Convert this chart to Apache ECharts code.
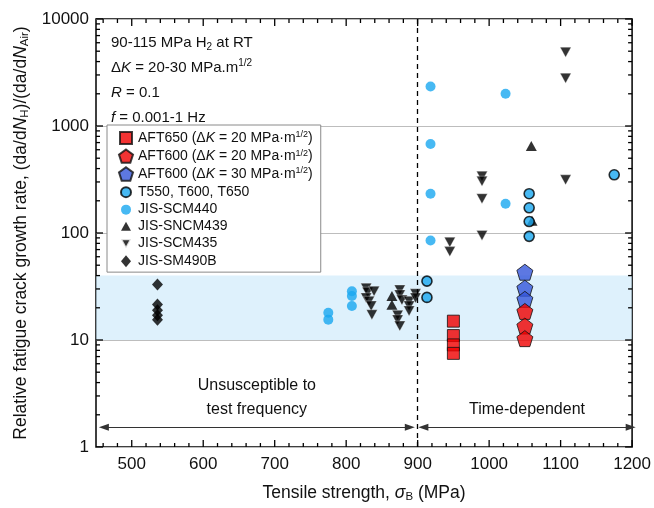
<!DOCTYPE html>
<html>
<head>
<meta charset="utf-8">
<script src="https://cdn.jsdelivr.net/npm/echarts@6/dist/echarts.min.js"></script>
<style>
html, body { margin: 0; padding: 0; background: #fff; }
#chart { width: 654px; height: 508px; }
</style>
</head>
<body>
<div id="chart"></div>
<script>
// data: [tensile strength (MPa), relative growth rate]
var aft650_20 = [[950, 15], [950, 11], [950, 9], [950, 7.5]];
var aft600_20 = [[1050, 18.5], [1050, 13.5], [1050, 10.3]];
var aft600_30 = [[1050, 43], [1050, 30.5], [1050, 24]];
var tSeries = [[913, 35.5], [913, 25], [1056, 233], [1056, 172], [1056, 128], [1056, 93], [1175, 350]];
var scm440 = [[918, 2340], [918, 680], [918, 233], [918, 85], [1023, 2000], [1023, 188],
  [775, 18], [775, 15.5], [808, 28.6], [808, 25.8], [808, 20.8]];
var sncm439 = [[864, 25.8], [864, 21.3], [1059, 650], [1060, 130]];
var scm435 = [[828, 30.5], [830, 28], [839, 28.6], [828, 24.7], [832, 23], [835, 20.8], [836, 17.2],
  [875, 29.3], [875, 26.4], [878, 23.6], [888, 23], [888, 20.8], [888, 18.7], [872, 17], [872, 15.4],
  [875, 13.5], [897, 27], [897, 24.7],
  [945, 82], [945, 67], [990, 340], [990, 305], [990, 209], [990, 95],
  [1107, 4900], [1107, 2800], [1107, 314]];
var sm490b = [[536, 33], [536, 21.5], [536, 19], [536, 17], [536, 15.5]];

// axis ticks
var xMajorTicks = [500, 600, 700, 800, 900, 1000, 1100, 1200];
var xMinorTicks = [460, 480, 520, 540, 560, 580, 620, 640, 660, 680, 720, 740, 760, 780,
  820, 840, 860, 880, 920, 940, 960, 980, 1020, 1040, 1060, 1080, 1120, 1140, 1160, 1180];
var yMajorTicks = [1, 10, 100, 1000, 10000];
var yMinorTicks = [2, 3, 4, 5, 6, 7, 8, 9, 20, 30, 40, 50, 60, 70, 80, 90,
  200, 300, 400, 500, 600, 700, 800, 900, 2000, 3000, 4000, 5000, 6000, 7000, 8000, 9000];

var xRange = [450, 1200];
var yRange = [1, 10000];
var band = [10, 40];
var splitX = 900;
var arrowY = 1.53;
var leftArrow = [461, 889];
var rightArrow = [908, 1198];

var FONT = '"Liberation Sans", Arial, Helvetica, sans-serif';
var LIGHT = '#19a8f0';

var pentagon = 'path://M0,-10 L9.51,-3.09 L5.88,8.09 L-5.88,8.09 L-9.51,-3.09 Z';
var downTri = 'path://M-5,-4.5 L5,-4.5 L0,4.5 Z';

var legendRich = {
  t: { fontFamily: FONT, fontSize: 14, lineHeight: 15, color: '#111' },
  i: { fontFamily: FONT, fontSize: 14, lineHeight: 15, color: '#111', fontStyle: 'italic' },
  s: { fontFamily: FONT, fontSize: 9, lineHeight: 9, color: '#111', verticalAlign: 'top' }
};
var legendText = {
  'AFT650 20': '{t|AFT650 (Δ}{i|K}{t| = 20 MPa·m}{s|1/2}{t|)}',
  'AFT600 20': '{t|AFT600 (Δ}{i|K}{t| = 20 MPa·m}{s|1/2}{t|)}',
  'AFT600 30': '{t|AFT600 (Δ}{i|K}{t| = 30 MPa·m}{s|1/2}{t|)}',
  'T550, T600, T650': '{t|T550, T600, T650}',
  'JIS-SCM440': '{t|JIS-SCM440}',
  'JIS-SNCM439': '{t|JIS-SNCM439}',
  'JIS-SCM435': '{t|JIS-SCM435}',
  'JIS-SM490B': '{t|JIS-SM490B}'
};
var titleRich = {
  t: { fontFamily: FONT, fontSize: 17.5, lineHeight: 20, color: '#111' },
  i: { fontFamily: FONT, fontSize: 17.5, lineHeight: 20, color: '#111', fontStyle: 'italic' },
  sub: { fontFamily: FONT, fontSize: 11.5, lineHeight: 11, color: '#111', verticalAlign: 'bottom' }
};

// one tick mark per data item, sign = which side of the frame
function tickRenderer(side) {
  return function (params, api) {
    var len = api.value(2);
    var p = api.coord([api.value(0), api.value(1)]);
    var s = { x1: p[0], y1: p[1], x2: p[0], y2: p[1] };
    if (side === 'bottom') s.y2 = p[1] - len;
    if (side === 'top') s.y2 = p[1] + len;
    if (side === 'left') s.x2 = p[0] + len;
    if (side === 'right') s.x2 = p[0] - len;
    return { type: 'line', shape: s, style: { stroke: '#000', lineWidth: 1.3 } };
  };
}
function tickSeries(side, data) {
  return { type: 'custom', renderItem: tickRenderer(side), z: 6,
    dimensions: ['x', 'y', 'len'], encode: { x: 0, y: 1 }, data: data };
}
var xTickVals = xMajorTicks.map(function (v) { return [v, 7]; })
  .concat(xMinorTicks.map(function (v) { return [v, 4]; }));
var yTickVals = yMajorTicks.map(function (v) { return [v, 7]; })
  .concat(yMinorTicks.map(function (v) { return [v, 4]; }));

var chart = echarts.init(document.getElementById('chart'));
chart.setOption({
  animation: false,
  grid: { left: 96, right: 20, top: 19, bottom: 58, show: true, borderColor: '#000', borderWidth: 1.5, backgroundColor: 'transparent' },
  xAxis: {
    type: 'value', min: xRange[0], max: xRange[1], interval: 50,
    name: '{t|Tensile strength, }{i|σ}{sub|B}{t| (MPa)}',
    nameLocation: 'middle', nameGap: 36,
    nameTextStyle: { rich: titleRich },
    axisLine: { show: false }, axisTick: { show: false }, splitLine: { show: false },
    axisLabel: { fontFamily: FONT, fontSize: 17, color: '#111', margin: 9,
      formatter: function (v) { return v % 100 === 0 ? String(v) : ''; } }
  },
  yAxis: {
    type: 'log', logBase: 10, min: yRange[0], max: yRange[1],
    name: '{t|Relative fatigue crack growth rate, (da/d}{i|N}{sub|H}{t|)/(da/d}{i|N}{sub|Air}{t|)}',
    nameLocation: 'middle', nameGap: 64,
    nameTextStyle: { rich: titleRich },
    axisLine: { show: false }, axisTick: { show: false },
    axisLabel: { fontFamily: FONT, fontSize: 17, color: '#111', margin: 7,
      formatter: function (v) { return String(Math.round(v)); } },
    splitLine: { show: true, lineStyle: { color: '#bdbdbd', width: 1.2 } }
  },
  legend: {
    orient: 'vertical', left: 107, top: 125,
    padding: [5, 8, 4, 11], itemGap: 2.5, itemWidth: 14, itemHeight: 14,
    borderColor: '#8a8a8a', borderWidth: 1, backgroundColor: '#fff',
    data: [
      { name: 'AFT650 20', icon: 'path://M-7,-7 M7,7 M-6,-6 L6,-6 L6,6 L-6,6 Z' },
      { name: 'AFT600 20', icon: pentagon },
      { name: 'AFT600 30', icon: pentagon },
      { name: 'T550, T600, T650', icon: 'path://M-7,-7 M7,7 M-5,0 A5,5 0 1,0 5,0 A5,5 0 1,0 -5,0 Z' },
      { name: 'JIS-SCM440', icon: 'path://M-7,-7 M7,7 M-5,0 A5,5 0 1,0 5,0 A5,5 0 1,0 -5,0 Z' },
      { name: 'JIS-SNCM439', icon: 'path://M-7,-7 M7,7 M0,-4.5 L5,4.5 L-5,4.5 Z' },
      { name: 'JIS-SCM435', icon: 'path://M-7,-7 M7,7 M-5,-4.5 L5,-4.5 L0,4.5 Z' },
      { name: 'JIS-SM490B', icon: 'path://M-7,-7 M7,7 M0,-6 L5,0 L0,6 L-5,0 Z' }
    ],
    formatter: function (n) { return legendText[n]; },
    textStyle: { fontFamily: FONT, fontSize: 14, rich: legendRich }
  },
  graphic: [{
    type: 'text', left: 111, top: 35, z: 10,
    style: {
      text: [
        '{t|90-115 MPa H}{sub|2}{t| at RT}',
        '{t|Δ}{i|K}{t| = 20-30 MPa.m}{sup|1/2}',
        '{i|R}{t| = 0.1}',
        '{i|f}{t| = 0.001-1 Hz}'
      ].join('\n'),
      fill: '#111',
      rich: {
        t: { fontFamily: FONT, fontSize: 15, lineHeight: 25, fill: '#111' },
        i: { fontFamily: FONT, fontSize: 15, lineHeight: 25, fill: '#111', fontStyle: 'italic' },
        sub: { fontFamily: FONT, fontSize: 10, lineHeight: 10, fill: '#111', verticalAlign: 'bottom', padding: [0, 0, 3, 0] },
        sup: { fontFamily: FONT, fontSize: 10, lineHeight: 10, fill: '#111', verticalAlign: 'top', padding: [3, 0, 0, 0] }
      }
    }
  }],
  series: [
    {
      name: 'band', type: 'line', data: [], silent: true,
      markArea: { silent: true, itemStyle: { color: 'rgba(202,232,250,0.62)' },
        data: [[{ yAxis: band[0] }, { yAxis: band[1] }]] }
    },
    {
      name: 'split', type: 'line', data: [], silent: true,
      markLine: { silent: true, symbol: 'none', label: { show: false },
        lineStyle: { color: '#000', width: 1.3, type: [5, 4] },
        data: [{ xAxis: splitX }] }
    },
    {
      name: 'arrows', type: 'line', data: [], silent: true,
      markLine: {
        silent: true, symbol: ['triangle', 'triangle'], symbolSize: [7, 10],
        lineStyle: { color: '#333', width: 1.2, type: 'solid' },
        label: { show: true, position: 'middle', distance: 6, color: '#111',
          fontFamily: FONT, fontSize: 16, lineHeight: 24 },
        data: [
          [{ coord: [leftArrow[0], arrowY], label: { formatter: 'Unsusceptible to\ntest frequency' } },
           { coord: [leftArrow[1], arrowY] }],
          [{ coord: [rightArrow[0], arrowY], label: { formatter: 'Time-dependent' } },
           { coord: [rightArrow[1], arrowY] }]
        ]
      }
    },
    tickSeries('bottom', xTickVals.map(function (d) { return [d[0], yRange[0], d[1]]; })),
    tickSeries('top', xTickVals.map(function (d) { return [d[0], yRange[1], d[1]]; })),
    tickSeries('left', yTickVals.map(function (d) { return [xRange[0], d[0], d[1]]; })),
    tickSeries('right', yTickVals.map(function (d) { return [xRange[1], d[0], d[1]]; })),

    { name: 'JIS-SM490B', type: 'scatter', data: sm490b, symbol: 'diamond', symbolSize: [11, 12],
      itemStyle: { color: '#000' } },
    { name: 'JIS-SCM435', type: 'scatter', data: scm435, symbol: downTri, symbolSize: [11, 10],
      itemStyle: { color: '#000', borderColor: '#fff', borderWidth: 0.4 } },
    { name: 'JIS-SNCM439', type: 'scatter', data: sncm439, symbol: 'triangle', symbolSize: [11, 10],
      itemStyle: { color: '#000' } },
    { name: 'JIS-SCM440', type: 'scatter', data: scm440, symbol: 'circle', symbolSize: 10,
      itemStyle: { color: LIGHT } },
    { name: 'T550, T600, T650', type: 'scatter', data: tSeries, symbol: 'circle', symbolSize: 10,
      itemStyle: { color: LIGHT, borderColor: '#000', borderWidth: 1.6 } },
    { name: 'AFT600 30', type: 'scatter', data: aft600_30, symbol: pentagon, symbolSize: 16,
      itemStyle: { color: '#3556db', borderColor: '#111', borderWidth: 1 } },
    { name: 'AFT600 20', type: 'scatter', data: aft600_20, symbol: pentagon, symbolSize: 16,
      itemStyle: { color: '#f00000', borderColor: '#111', borderWidth: 1 } },
    { name: 'AFT650 20', type: 'scatter', data: aft650_20, symbol: 'rect', symbolSize: 12,
      itemStyle: { color: '#f00000', borderColor: '#111', borderWidth: 1 } }
  ]
});
</script>
</body>
</html>
